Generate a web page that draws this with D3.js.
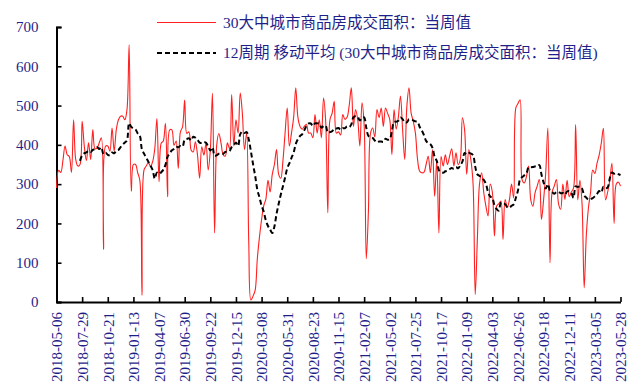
<!DOCTYPE html>
<html>
<head>
<meta charset="utf-8">
<script src="https://cdn.jsdelivr.net/npm/d3@7/dist/d3.min.js"></script>
<style>
  html, body { margin: 0; padding: 0; background: #fff; }
  svg { display: block; }
  text { font-family: "Liberation Serif", "Times New Roman", "Noto Sans CJK SC", serif; }
</style>
</head>
<body>
<svg id="chart" width="637" height="389"></svg>
<script>
// Weekly transaction area of commercial housing in 30 large/mid cities (10k m²)
const firstWeek = "2018-05-06";
const weeklyArea = [
  290,335,330,360,397,375,370,330,464,363,346,350,
  460,397,360,405,363,439,390,392,405,418,134,397,
  397,384,443,384,439,464,473,473,464,490,655,282,
  350,350,329,310,17,337,346,355,345,357,390,467,
  306,404,410,455,268,438,438,399,410,340,433,446,
  514,429,433,387,382,408,374,315,395,374,404,336,
  387,531,176,400,429,405,375,371,405,390,528,397,
  464,430,532,480,388,430,150,5,15,30,110,165,
  210,245,262,310,280,325,350,388,325,315,360,430,
  494,397,430,470,545,470,447,440,447,452,430,430,
  418,477,430,464,418,519,460,227,464,480,511,430,
  433,425,477,465,470,500,545,447,490,464,397,507,
  450,110,230,430,443,420,490,470,494,447,494,480,
  464,375,490,440,470,524,440,363,498,545,481,460,
  430,363,333,329,330,350,371,329,388,269,360,176,
  370,346,375,350,371,390,346,380,350,363,469,440,
  325,388,360,300,19,160,300,329,278,244,219,300,
  280,168,244,250,257,159,261,240,260,300,265,494,
  505,515,310,303,320,346,260,244,278,295,312,210,
  260,329,443,100,280,295,312,250,236,300,261,310,
  268,280,290,452,260,310,250,36,170,240,280,336,
  327,353,374,404,442,260,280,310,353,200,300,305,
  295
];
const tickLabels = [
  "2018-05-06","2018-07-29","2018-10-21","2019-01-13","2019-04-07","2019-06-30",
  "2019-09-22","2019-12-15","2020-03-08","2020-05-31","2020-08-23","2020-11-15",
  "2021-02-07","2021-05-02","2021-07-25","2021-10-17","2022-01-09","2022-04-03",
  "2022-06-26","2022-09-18","2022-12-11","2023-03-05","2023-05-28"
];
const yTicks = [0,100,200,300,400,500,600,700];
const seriesName = "30大中城市商品房成交面积：当周值";
const maName = "12周期 移动平均 (30大中城市商品房成交面积：当周值)";
const maPeriod = 12;

// week-ending dates for each observation
const fmt = d3.utcFormat("%Y-%m-%d");
const start = d3.utcParse("%Y-%m-%d")(firstWeek);
const weeks = weeklyArea.map((_, i) => fmt(d3.utcDay.offset(start, i * 7)));

// trailing 12-week moving average
const movingAvg = weeklyArea.map((_, i) =>
  i < maPeriod - 1 ? null : d3.mean(weeklyArea.slice(i - maPeriod + 1, i + 1)));

const svg = d3.select("#chart");
const textColor = "#1f1f8a";

const x = d3.scalePoint().domain(weeks).range([56.5, 620.5]);
const y = d3.scaleLinear().domain([0, 700]).range([302, 27]);

// y axis, ticks pointing into the plot
const yAxis = svg.append("g")
  .attr("transform", "translate(56.5,0)")
  .call(d3.axisLeft(y).tickValues(yTicks).tickSize(-5).tickPadding(20));
yAxis.select(".domain").attr("stroke", "#000").attr("stroke-width", 2);
yAxis.selectAll(".tick line").attr("stroke", "#000").attr("stroke-width", 1.6);
yAxis.selectAll(".tick text")
  .attr("fill", textColor).attr("font-size", 15)
  .attr("font-family", "Liberation Serif, Times New Roman, serif")
  .attr("x", -18);

// x axis, ticks pointing into the plot, rotated date labels
const xAxis = svg.append("g")
  .attr("transform", "translate(0,302)")
  .call(d3.axisBottom(x).tickValues(tickLabels).tickSize(-5).tickSizeOuter(0));
xAxis.select(".domain").attr("stroke", "#000").attr("stroke-width", 2);
xAxis.selectAll(".tick line").attr("stroke", "#000").attr("stroke-width", 1.6);
xAxis.selectAll(".tick text")
  .attr("fill", textColor).attr("font-size", 15)
  .attr("font-family", "Liberation Serif, Times New Roman, serif")
  .attr("transform", "rotate(-90)")
  .attr("text-anchor", "end")
  .attr("x", -10).attr("y", 0).attr("dy", "0.35em");

// weekly series
const line = d3.line()
  .x((d, i) => x(weeks[i]))
  .y(d => y(d))
  .curve(d3.curveCatmullRom.alpha(0.5));

svg.append("path")
  .datum(weeklyArea)
  .attr("fill", "none")
  .attr("stroke", "#ff2020")
  .attr("stroke-width", 1.1)
  .attr("d", line);

// moving average
const maLine = d3.line()
  .defined(d => d != null)
  .x((d, i) => x(weeks[i]))
  .y(d => y(d))
  .curve(d3.curveCatmullRom.alpha(0.5));

svg.append("path")
  .datum(movingAvg)
  .attr("fill", "none")
  .attr("stroke", "#000")
  .attr("stroke-width", 2)
  .attr("stroke-dasharray", "5,3")
  .attr("d", maLine);

// legend
const legend = svg.append("g");
const items = [
  { name: seriesName, stroke: "#ff2020", width: 1.1, dash: null, y: 22.5 },
  { name: maName, stroke: "#000", width: 2, dash: "5,3", y: 53 }
];
items.forEach(it => {
  legend.append("line")
    .attr("x1", 157).attr("x2", 216).attr("y1", it.y).attr("y2", it.y)
    .attr("stroke", it.stroke).attr("stroke-width", it.width)
    .attr("stroke-dasharray", it.dash);
  legend.append("text")
    .attr("x", 223).attr("y", it.y).attr("dy", "0.35em")
    .attr("fill", textColor).attr("font-size", 15.5)
    .text(it.name);
});
</script>
</body>
</html>
